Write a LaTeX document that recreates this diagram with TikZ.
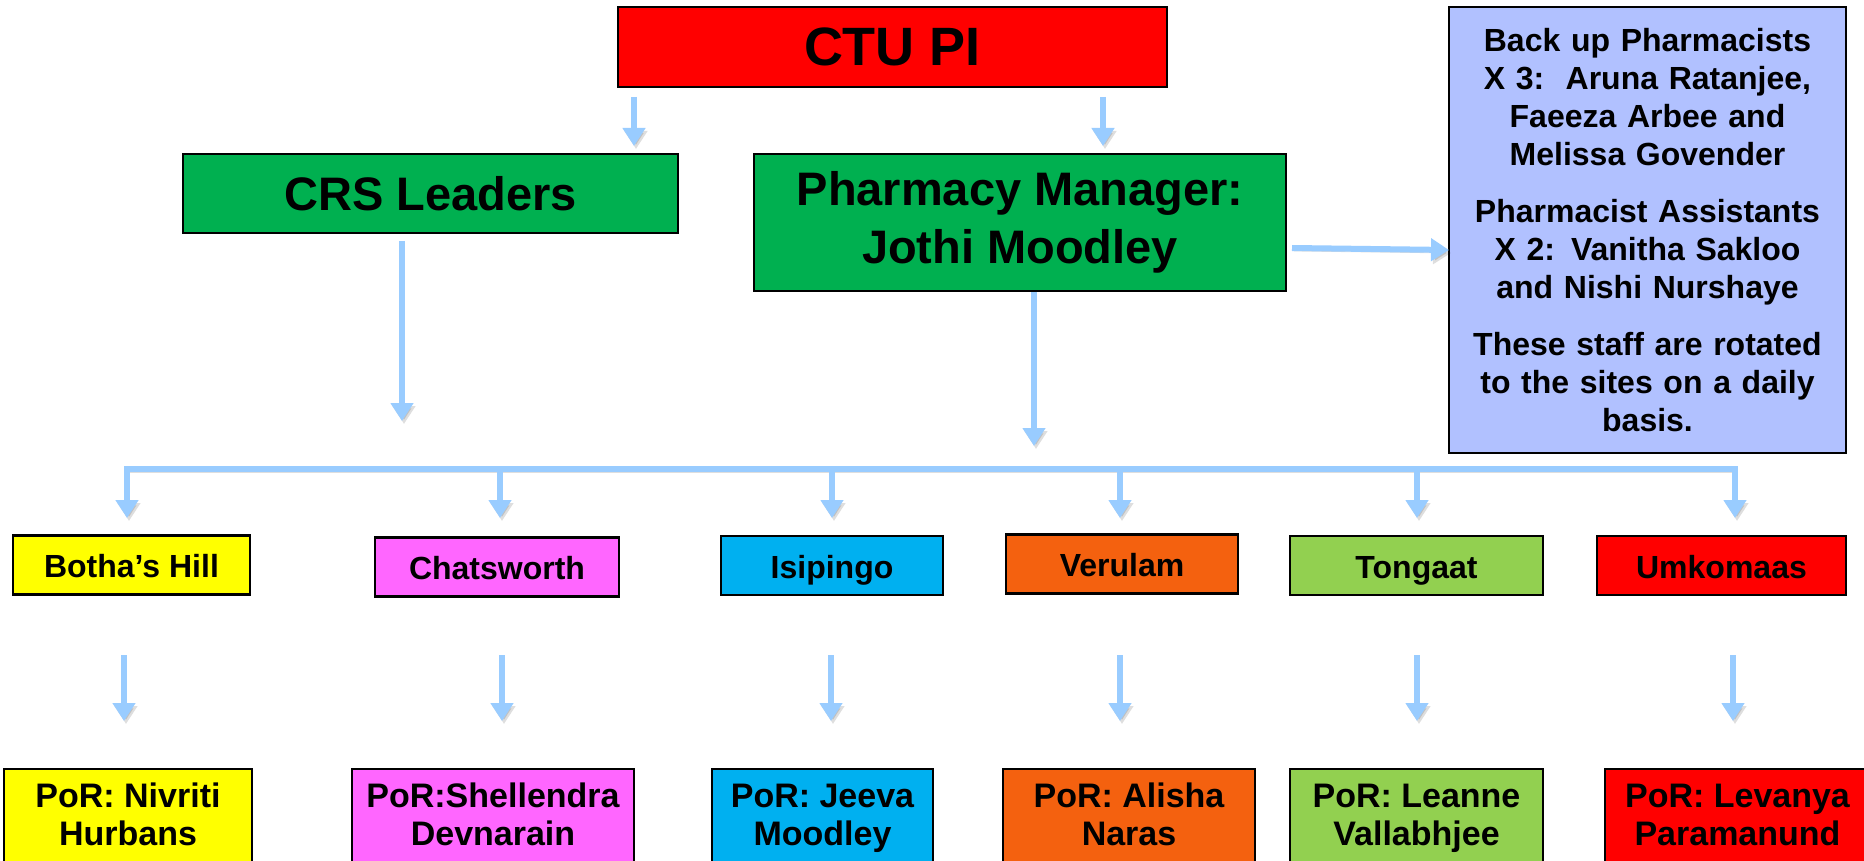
\documentclass[tikz,border=0pt]{standalone}
\usepackage{fontspec}
\setmainfont{Liberation Sans}
\usetikzlibrary{arrows.meta}
\definecolor{ctured}{HTML}{FF0000}
\definecolor{boxgreen}{HTML}{00B050}
\definecolor{sideblue}{HTML}{B1C1FF}
\definecolor{arrowblue}{HTML}{99CCFF}
\definecolor{siteyellow}{HTML}{FFFF00}
\definecolor{sitepink}{HTML}{FF66FF}
\definecolor{sitecyan}{HTML}{00B0F0}
\definecolor{siteorange}{HTML}{F4610F}
\definecolor{sitelime}{HTML}{92D050}
\newcommand{\mystr}{\strut}
\tikzset{
  box/.style={draw=black, line width=1.2pt, inner sep=2pt, align=center, font=\bfseries},
  sitebox/.style={box, minimum height=29.5pt, text height=16.3pt, text depth=3.5pt, font=\bfseries\fontsize{16}{19}\selectfont},
  porbox/.style={box, minimum height=49.5pt, font=\bfseries\fontsize{17}{19}\selectfont},
  conn/.style={draw=arrowblue, line width=3pt, -{Triangle[width=11pt,length=9pt]},
    preaction={draw=black, draw opacity=0.13, fill opacity=0.13, transform canvas={shift={(1pt,-1.5pt)}}}},
  bus/.style={draw=arrowblue, line width=3pt, {Triangle[width=11pt,length=9pt]}-{Triangle[width=11pt,length=9pt]},
    preaction={draw=black, draw opacity=0.13, fill opacity=0.13, transform canvas={shift={(1pt,-1.5pt)}}}}
}
\begin{document}
\begin{tikzpicture}[x=0.5pt,y=-0.5pt]
\useasboundingbox (0,0) rectangle (1864,861);
\clip (0,0) rectangle (1864,861);
\fill[white] (0,0) rectangle (1864,861);
% top level
\node[box, fill=ctured, minimum width=274.5pt, minimum height=40pt, font=\bfseries\fontsize{27}{30}\selectfont] (ctu) at (892.5,47) {CTU PI};
\node[box, fill=boxgreen, minimum width=247.5pt, minimum height=39.5pt, font=\bfseries\fontsize{23.5}{29}\selectfont] (crs) at (430.5,193.5) {CRS Leaders};
\node[box, fill=boxgreen, minimum width=266pt, minimum height=68.5pt, font=\bfseries\fontsize{23.5}{29}\selectfont] (pm) at (1020,222.5) {Pharmacy Manager:\\Jothi Moodley};
\node[box, fill=sideblue, minimum width=198.5pt, minimum height=223pt, text width=190pt, font=\bfseries\fontsize{16}{19}\selectfont] (side) at (1647.5,230)
 {Back up Pharmacists\\X 3:\ \ Aruna Ratanjee,\\Faeeza Arbee and\\Melissa Govender\\[9.5pt]Pharmacist Assistants\\X 2: Vanitha Sakloo\\and Nishi Nurshaye\\[9.5pt]These staff are rotated\\to the sites on a daily\\basis.};
% sites
\node[sitebox, fill=siteyellow, minimum width=118.5pt] (s1) at (131.5,565) {Botha’s Hill};
\node[sitebox, fill=sitepink, minimum width=122pt] (s2) at (497,567) {Chatsworth};
\node[sitebox, fill=sitecyan, minimum width=111pt] (s3) at (832,565.5) {Isipingo};
\node[sitebox, fill=siteorange, minimum width=116pt] (s4) at (1122,564) {Verulam};
\node[sitebox, fill=sitelime, minimum width=126.5pt] (s5) at (1416.5,565.5) {Tongaat};
\node[sitebox, fill=ctured, minimum width=124.5pt] (s6) at (1721.5,565.5) {Umkomaas};
% PoR
\node[porbox, fill=siteyellow, minimum width=124pt] (p1) at (128,818.5) {\mystr PoR: Nivriti\\\mystr Hurbans};
\node[porbox, fill=sitepink, minimum width=141pt] (p2) at (493,818.5) {\mystr PoR:Shellendra\\\mystr Devnarain};
\node[porbox, fill=sitecyan, minimum width=110.5pt] (p3) at (822.5,818.5) {\mystr PoR: Jeeva\\\mystr Moodley};
\node[porbox, fill=siteorange, minimum width=126pt] (p4) at (1129,818.5) {\mystr PoR: Alisha\\\mystr Naras};
\node[porbox, fill=sitelime, minimum width=126.5pt] (p5) at (1416.5,818.5) {\mystr PoR: Leanne\\\mystr Vallabhjee};
\node[porbox, fill=ctured, minimum width=132.5pt] (p6) at (1737.5,818.5) {\mystr PoR: Levanya\\\mystr Paramanund};
% arrow end points
\coordinate (a1s) at (634,97);  \coordinate (a1e) at (634,146);
\coordinate (a2s) at (1103,97); \coordinate (a2e) at (1103,146);
\coordinate (a3s) at (402,241); \coordinate (a3e) at (402,421);
\coordinate (a4s) at (1034,292); \coordinate (a4e) at (1034,446);
\coordinate (a5s) at (1292,248); \coordinate (a5e) at (1449,250);
\coordinate (b1) at (127,469); \coordinate (b6) at (1735,469);
\draw[conn] (a1s) -- (a1e);
\draw[conn] (a2s) -- (a2e);
\draw[conn] (a3s) -- (a3e);
\draw[conn] (a4s) -- (a4e);
\draw[conn] (a5s) -- (a5e);
% bus
\draw[bus] (127,518) -- (b1) -- (b6) -- (1735,518);
\foreach \x in {500,832,1120,1417}{
  \draw[conn] (\x,469) -- (\x,518);
}
% second row arrows
\foreach \x in {124,502,831,1120,1417,1733}{
  \draw[conn] (\x,655) -- (\x,721);
}
\end{tikzpicture}
\end{document}
